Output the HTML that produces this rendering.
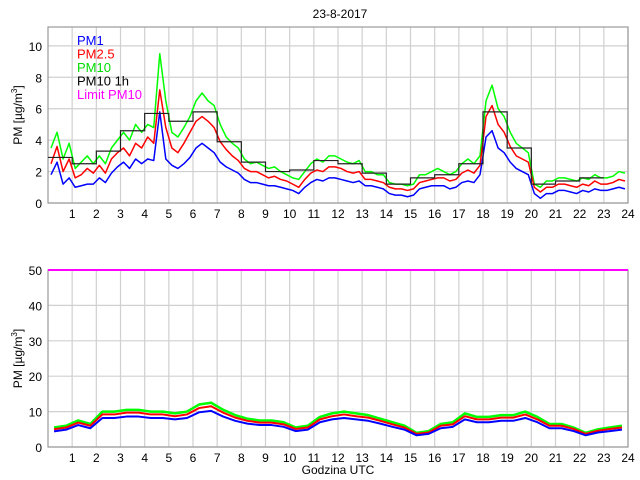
<!DOCTYPE html>
<html><head><meta charset="utf-8"><style>
body{margin:0;background:#fff;}
svg{display:block;font-family:"Liberation Sans",sans-serif;}
</style></head><body>
<svg id="c" width="640" height="480"></svg>
<script>
const hours=[1,2,3,4,5,6,7,8,9,10,11,12,13,14,15,16,17,18,19,20,21,22,23,24];
const topYTicks=[0,2,4,6,8,10];
const botYTicks=[0,10,20,30,40,50];
const pm10Top=[3.5,4.5,2.8,3.8,2.2,2.6,3.0,2.5,3.0,2.5,3.5,4.0,4.5,4.0,5.0,4.5,5.0,4.8,9.5,6.5,4.5,4.2,4.8,5.5,6.5,7.0,6.5,6.2,5.0,4.2,3.8,3.5,2.8,2.5,2.6,2.4,2.2,2.3,2.0,1.8,1.6,1.5,2.0,2.5,2.8,2.6,3.0,3.0,2.8,2.6,2.5,2.7,2.0,2.0,1.8,1.8,1.3,1.2,1.2,1.1,1.2,1.8,1.8,2.0,2.2,2.0,1.8,2.0,2.5,2.8,2.5,3.0,6.5,7.5,6.0,5.5,4.5,3.8,3.5,3.2,1.2,1.0,1.4,1.4,1.6,1.6,1.5,1.4,1.6,1.5,1.8,1.6,1.6,1.7,2.0,1.9];
const pm25Top=[2.5,3.6,2.0,2.8,1.6,1.8,2.2,1.9,2.4,1.9,2.8,3.2,3.5,3.0,3.8,3.5,4.2,3.8,7.2,4.8,3.5,3.2,3.8,4.5,5.2,5.5,5.2,4.8,3.9,3.4,3.0,2.7,2.2,2.0,2.0,1.8,1.6,1.7,1.5,1.4,1.2,1.0,1.5,1.9,2.1,2.0,2.3,2.3,2.2,2.0,1.9,2.0,1.5,1.5,1.4,1.3,1.0,0.9,0.9,0.8,0.9,1.3,1.4,1.5,1.6,1.6,1.4,1.5,1.9,2.1,1.9,2.4,5.5,6.2,5.0,4.5,3.6,3.0,2.8,2.6,1.0,0.7,1.0,1.0,1.2,1.2,1.1,1.0,1.2,1.1,1.4,1.2,1.2,1.3,1.5,1.4];
const pm1Top=[1.8,2.6,1.2,1.6,1.0,1.1,1.2,1.2,1.6,1.3,1.9,2.3,2.6,2.2,2.8,2.5,2.8,2.7,5.8,2.8,2.4,2.2,2.5,2.9,3.5,3.8,3.5,3.2,2.6,2.3,2.1,1.9,1.5,1.3,1.3,1.2,1.1,1.1,1.0,0.9,0.8,0.6,1.0,1.3,1.5,1.4,1.6,1.6,1.5,1.4,1.3,1.4,1.1,1.1,1.0,0.9,0.6,0.5,0.5,0.4,0.5,0.9,1.0,1.1,1.1,1.1,0.9,1.0,1.3,1.4,1.3,1.8,4.2,4.6,3.5,3.2,2.6,2.2,2.0,1.8,0.6,0.3,0.6,0.6,0.8,0.8,0.7,0.6,0.8,0.7,0.9,0.8,0.8,0.9,1.0,0.9];
const pm10Hourly=[2.9,2.5,3.3,4.6,5.7,5.2,5.8,3.9,2.6,2.0,2.1,2.7,2.5,1.9,1.2,1.6,1.8,2.5,5.8,3.5,1.2,1.4,1.6];
const pm10Bot=[5.5,6,7.5,6.5,10,10,10.5,10.5,10,10,9.5,10,12,12.5,10.5,9,8,7.5,7.5,7,5.5,6,8.5,9.5,10,9.5,9,8,7,6,4,4.5,6.5,7,9.5,8.5,8.5,9,9,10,8.5,6.5,6.5,5.5,4,5,5.5,6];
const pm25Bot=[5.0,5.5,6.9,6.0,9.2,9.2,9.7,9.7,9.2,9.2,8.7,9.2,11.0,11.5,9.7,8.3,7.4,6.9,6.9,6.4,5.1,5.5,7.8,8.7,9.2,8.7,8.3,7.4,6.4,5.5,3.7,4.1,6.0,6.4,8.7,7.8,7.8,8.3,8.3,9.2,7.8,6.0,6.0,5.1,3.7,4.6,5.1,5.5];
const pm1Bot=[4.4,4.9,6.2,5.3,8.2,8.2,8.6,8.6,8.2,8.2,7.8,8.2,9.8,10.2,8.6,7.4,6.6,6.2,6.2,5.7,4.5,4.9,7.0,7.8,8.2,7.8,7.4,6.6,5.7,4.9,3.3,3.7,5.3,5.7,7.8,7.0,7.0,7.4,7.4,8.2,7.0,5.3,5.3,4.5,3.3,4.1,4.5,4.9];
const limitPM10=50;

const NS="http://www.w3.org/2000/svg";
const svg=document.getElementById('c');
function mk(tag,attrs,parent){const e=document.createElementNS(NS,tag);for(const k in attrs)e.setAttribute(k,attrs[k]);(parent||svg).appendChild(e);return e;}
const X0=48,X1=628;
const xs=h=>X0+(X1-X0)*h/24;
function panel(top,bot,ymax,yticks,name){
  const ys=v=>bot-(bot-top)*v/ymax;
  const g=mk('g',{});
  
  
  hours.forEach(h=>{const l=mk('line',{x1:xs(h),x2:xs(h),y1:top,y2:bot,stroke:'#d0d0d0','stroke-width':1.2},g);
    
    const t=mk('text',{x:xs(h),y:bot+15,'text-anchor':'middle','font-size':12,fill:'#000'},g);t.textContent=h;
    });
  yticks.forEach(v=>{const l=mk('line',{x1:X0,x2:X1,y1:ys(v),y2:ys(v),stroke:'#d0d0d0','stroke-width':1.2},g);
    
    const t=mk('text',{x:X0-6,y:ys(v)+5,'text-anchor':'end','font-size':12,fill:'#000'},g);t.textContent=v;
    });
  const r=mk('rect',{x:X0,y:top,width:X1-X0,height:bot-top,fill:'none',stroke:'#999','stroke-width':1.2},g);
  
  const yl=mk('text',{transform:`translate(22,${(top+bot)/2}) rotate(-90)`,'text-anchor':'middle','font-size':12},g);
  yl.innerHTML='PM [µg/m<tspan dy="-5" font-size="8">3</tspan><tspan dy="5">]</tspan>';
  
  return ys;
}
function series(arr,step,ys,color,name,w){
  const pts=arr.map((v,i)=>xs(i*step+step/2)+','+ys(v)).join(' ');
  const p=mk('polyline',{points:pts,fill:'none',stroke:color,'stroke-width':w||1.5,'stroke-linejoin':'round'});
  
}
const t=mk('text',{x:340,y:18,'text-anchor':'middle','font-size':12});t.textContent='23-8-2017';

const ysT=panel(27,203,11.2,topYTicks,'top-panel');
series(pm10Top,0.25,ysT,'#00ff00','pm10-line');
series(pm25Top,0.25,ysT,'#ff0000','pm25-line');
series(pm1Top,0.25,ysT,'#0000ff','pm1-line');
let d='';pm10Hourly.forEach((v,i)=>{d+=(i?'L':'M')+xs(i)+','+ysT(v)+'L'+xs(i+1)+','+ysT(v);});
const hp=mk('path',{d:d,fill:'none',stroke:'#222','stroke-width':1.2});

const leg=[['PM1','#0000ff'],['PM2.5','#ff0000'],['PM10','#00dd00'],['PM10 1h','#000'],['Limit PM10','#ff00ff']];
leg.forEach((l,i)=>{const e=mk('text',{x:77,y:45+i*13.5,'font-size':13,fill:l[1]});e.textContent=l[0];
  });
const ysB=panel(270,447,50,botYTicks,'bottom-panel');
series(pm10Bot,0.5,ysB,'#00ff00','pm10-line-bottom',2.5);
series(pm25Bot,0.5,ysB,'#ff0000','pm25-line-bottom',2);
series(pm1Bot,0.5,ysB,'#0000ff','pm1-line-bottom',2);
const lim=mk('line',{x1:X0,x2:X1,y1:ysB(limitPM10),y2:ysB(limitPM10),stroke:'#ff00ff','stroke-width':2});

const xl=mk('text',{x:338,y:474,'text-anchor':'middle','font-size':12});xl.textContent='Godzina UTC';

</script>
</body></html>
